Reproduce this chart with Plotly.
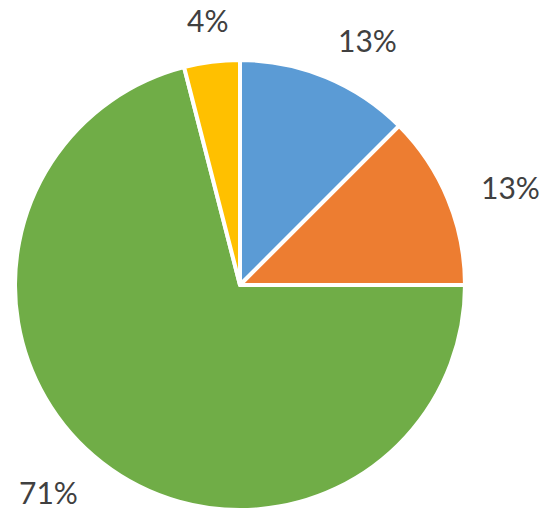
import math
import plotly.graph_objects as go

categories = ["A", "B", "C", "D"]
values = [12.5, 12.5, 71.0, 4.0]
text_labels = ["13%", "13%", "71%", "4%"]
colors = ["#5B9BD5", "#ED7D31", "#70AD47", "#FFC000"]

W, H = 550, 518
cx, cy, r = 240, 285, 225
FS = 30
FONT = "Lato, Open Sans, sans-serif"

fig = go.Figure(go.Pie(
    labels=categories,
    values=values,
    textinfo="none",
    sort=False,
    direction="clockwise",
    rotation=0,
    marker=dict(colors=colors, line=dict(color="white", width=4)),
    showlegend=False,
    hoverinfo="label+percent",
    domain=dict(x=[(cx - r) / W, (cx + r) / W], y=[(H - cy - r) / H, (H - cy + r) / H]),
))

# data labels placed just outside each slice, at the slice's mid-angle
total = sum(values)
cum = 0.0
annotations = []
for v, t in zip(values, text_labels):
    mid = math.radians((cum + v / 2) / total * 360)
    cum += v
    d = r + 30
    px = cx + d * math.sin(mid)
    py = cy - d * math.cos(mid)
    s, c = math.sin(mid), math.cos(mid)
    sx = max(-1.3, min(1.3, 20 * s ** 3))
    sy = c ** 3
    w = 0.6 * FS * len(t)
    h = 24
    annotations.append(dict(
        x=px / W, y=1 - py / H, xref="paper", yref="paper",
        text=t, showarrow=False, xanchor="center", yanchor="middle",
        xshift=sx * w / 2, yshift=sy * h / 2,
        font=dict(family=FONT, size=FS, color="#404040"),
    ))

fig.update_layout(
    width=W, height=H,
    margin=dict(l=0, r=0, t=0, b=0),
    paper_bgcolor="white",
    plot_bgcolor="white",
    annotations=annotations,
)
fig.write_html("out.html", config={"displayModeBar": False},
               post_script="document.body.style.margin='0px';")
